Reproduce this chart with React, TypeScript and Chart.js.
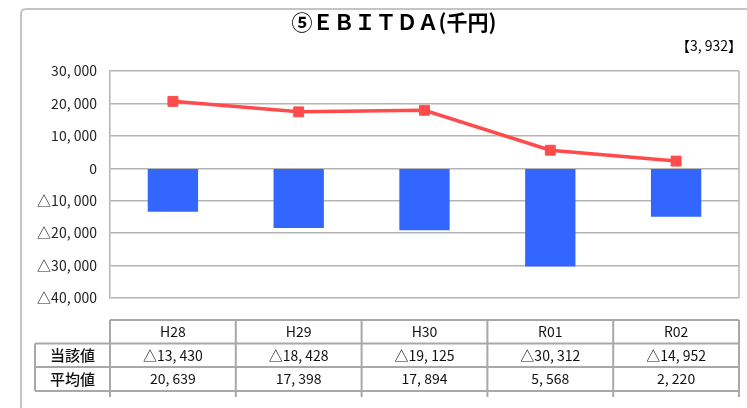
import React, { useEffect, useRef } from "react";
import { Chart, registerables } from "chart.js";

Chart.register(...registerables);

const categories = ["H28", "H29", "H30", "R01", "R02"];
const currentValues = [-13430, -18428, -19125, -30312, -14952];
const averageValues = [20639, 17398, 17894, 5568, 2220];
const rowLabels = ["当該値", "平均値"];
const yTickValues = [30000, 20000, 10000, 0, -10000, -20000, -30000, -40000];
const yTickLabels = ["30, 000", "20, 000", "10, 000", "0", "△10, 000", "△20, 000", "△30, 000", "△40, 000"];
const titleText = "⑤ＥＢＩＴＤＡ(千円)";
const noteText = "【3, 932】";

const FONT = "'Noto Sans CJK JP', 'Noto Sans', sans-serif";

function fmt(v: number): string {
  const s = Math.abs(v).toLocaleString("en-US").replace(/,/g, ", ");
  return v < 0 ? "△" + s : s;
}

const extrasPlugin = {
  id: "extras",
  afterDraw(chart: any) {
    const ctx = chart.ctx as CanvasRenderingContext2D;
    const area = chart.chartArea;
    const xs = chart.scales.x;
    ctx.save();

    // outer frame
    ctx.strokeStyle = "#c4c4c4";
    ctx.lineWidth = 2;
    ctx.beginPath();
    ctx.moveTo(21, 420);
    ctx.lineTo(21, 14);
    ctx.quadraticCurveTo(21, 9, 26, 9);
    ctx.lineTo(760, 9);
    ctx.stroke();

    // plot frame right border
    ctx.strokeStyle = "#b4b4b4";
    ctx.lineWidth = 1.5;
    ctx.beginPath();
    ctx.moveTo(area.right, area.top);
    ctx.lineTo(area.right, area.bottom);
    ctx.stroke();

    // title
    ctx.fillStyle = "#000";
    ctx.font = `bold 21px ${FONT}`;
    ctx.textAlign = "center";
    ctx.textBaseline = "middle";
    ctx.fillText(titleText, 394, 22);

    // note
    ctx.font = `14px ${FONT}`;
    ctx.textAlign = "right";
    ctx.fillText(noteText, 742, 46);

    // data table
    const n = categories.length;
    const cw = (area.right - area.left) / n;
    const rowTops = [320, 343.5, 367, 391];
    const labelLeft = 35;
    ctx.strokeStyle = "#a8a8a8";
    ctx.lineWidth = 2;
    ctx.beginPath();
    ctx.moveTo(area.left, rowTops[0]);
    ctx.lineTo(area.right, rowTops[0]);
    for (let r = 1; r < rowTops.length; r++) {
      ctx.moveTo(labelLeft, rowTops[r]);
      ctx.lineTo(area.right, rowTops[r]);
    }
    ctx.moveTo(labelLeft, rowTops[1]);
    ctx.lineTo(labelLeft, rowTops[3]);
    for (let i = 0; i <= n; i++) {
      const x = i === n ? area.right : xs.getPixelForValue(i) - cw / 2;
      ctx.moveTo(x, rowTops[0]);
      ctx.lineTo(x, rowTops[3] + 6);
    }
    ctx.stroke();

    ctx.fillStyle = "#111";
    ctx.textAlign = "center";
    ctx.textBaseline = "middle";
    ctx.font = `14px ${FONT}`;
    categories.forEach((c, i) => {
      const cx = xs.getPixelForValue(i);
      ctx.fillText(c, cx, (rowTops[0] + rowTops[1]) / 2);
      ctx.fillText(fmt(currentValues[i]), cx, (rowTops[1] + rowTops[2]) / 2);
      ctx.fillText(fmt(averageValues[i]), cx, (rowTops[2] + rowTops[3]) / 2);
    });
    ctx.font = `500 15px ${FONT}`;
    rowLabels.forEach((l, r) => {
      ctx.fillText(l, (labelLeft + area.left) / 2, (rowTops[r + 1] + rowTops[r + 2]) / 2);
    });

    ctx.restore();
  },
};

export default function App() {
  const ref = useRef<HTMLCanvasElement | null>(null);
  useEffect(() => {
    if (!ref.current) return;
    const chart = new Chart(ref.current, {
      type: "bar",
      data: {
        labels: categories,
        datasets: [
          {
            type: "line",
            label: "平均値",
            data: averageValues,
            borderColor: "#FF4B4B",
            backgroundColor: "#FF4B4B",
            borderWidth: 3.5,
            pointStyle: "rect",
            pointRadius: 7,
            pointBorderWidth: 1,
            pointBackgroundColor: "#FF4B4B",
            pointBorderColor: "#FF4B4B",
            tension: 0,
            order: 1,
          } as any,
          {
            type: "bar",
            label: "当該値",
            data: currentValues,
            backgroundColor: "#3366FF",
            borderWidth: 0,
            barPercentage: 0.4,
            categoryPercentage: 1,
            order: 2,
          },
        ],
      },
      options: {
        responsive: false,
        animation: false,
        devicePixelRatio: 1,
        layout: { padding: { left: 0, top: 71, right: 3, bottom: 110 } },
        plugins: {
          legend: { display: false },
          tooltip: { enabled: false },
          title: { display: false },
        },
        scales: {
          x: { display: false },
          y: {
            min: -40000,
            max: 30000,
            afterFit: (s: any) => {
              s.width = 110;
            },
            afterBuildTicks: (s: any) => {
              s.ticks = yTickValues.slice().reverse().map((v) => ({ value: v }));
            },
            grid: { color: "#b4b4b4", lineWidth: 1.5, drawTicks: false },
            border: { display: true, color: "#b4b4b4", width: 1.5 },
            ticks: {
              padding: 13,
              color: "#222",
              font: { family: FONT, size: 14 },
              callback: (v: any) => {
                const i = yTickValues.indexOf(Number(v));
                return i >= 0 ? yTickLabels[i] : "";
              },
            },
          },
        },
      },
      plugins: [extrasPlugin],
    });
    return () => chart.destroy();
  }, []);
  return (
    <div style={{ position: "absolute", left: 0, top: 0, width: 747, height: 408, background: "#fff" }}>
      <canvas ref={ref} width={747} height={408} style={{ display: "block" }} />
    </div>
  );
}
